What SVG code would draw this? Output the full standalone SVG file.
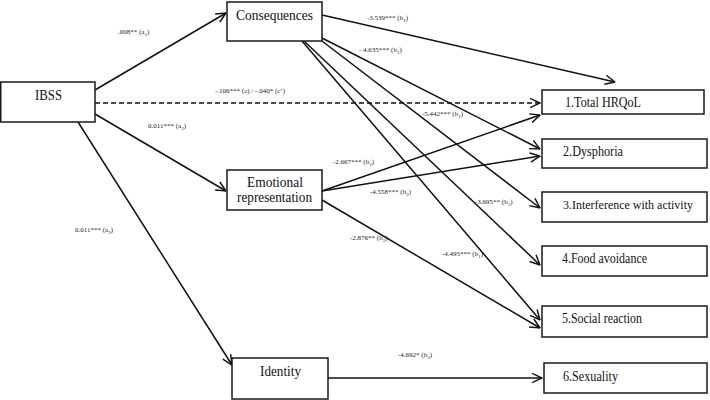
<svg xmlns="http://www.w3.org/2000/svg" width="710" height="400" viewBox="0 0 710 400">
<style>
.box{fill:#fff;stroke:#1a1a1a;stroke-width:1.5}
.t{font-size:14px;fill:#111}
.l{font-size:7px;fill:#222}
.s{font-size:5px}
.c{fill:none;stroke:#111;stroke-width:1.5}
.d{stroke-dasharray:5,3}
</style>
<defs>
<marker id="ah" viewBox="0 0 10 10" refX="9.5" refY="5" markerWidth="11" markerHeight="11" markerUnits="userSpaceOnUse" orient="auto">
<path d="M0.5,0.8 L9.5,5 L0.5,9.2" fill="none" stroke="#111" stroke-width="1.3"/>
</marker>
</defs>
<rect width="710" height="400" fill="#fff"/>
<g id="connectors">
<line class="c" x1="95" y1="90" x2="226" y2="13" marker-end="url(#ah)"/>
<line class="c d" x1="95" y1="103" x2="540" y2="103" marker-end="url(#ah)"/>
<line class="c" x1="95" y1="114" x2="226" y2="191" marker-end="url(#ah)"/>
<line class="c" x1="78" y1="122" x2="232" y2="365" marker-end="url(#ah)"/>
<line class="c" x1="322" y1="15" x2="615" y2="82" marker-end="url(#ah)"/>
<line class="c" x1="322" y1="38" x2="540" y2="149" marker-end="url(#ah)"/>
<line class="c" x1="322" y1="41" x2="540" y2="208" marker-end="url(#ah)"/>
<line class="c" x1="304" y1="41" x2="540" y2="265" marker-end="url(#ah)"/>
<line class="c" x1="302" y1="41" x2="540" y2="320" marker-end="url(#ah)"/>
<line class="c" x1="322" y1="191" x2="540" y2="115" marker-end="url(#ah)"/>
<line class="c" x1="322" y1="191" x2="540" y2="156" marker-end="url(#ah)"/>
<line class="c" x1="322" y1="200" x2="540" y2="328" marker-end="url(#ah)"/>
<line class="c" x1="328" y1="378" x2="542" y2="378" marker-end="url(#ah)"/>
</g>
<g font-family="'Liberation Serif', 'Times New Roman', Times, serif">
<g id="labels">
<text class="l" x="118" y="34">.008** (a<tspan class="s" dy="1.5">1</tspan><tspan dy="-1.5">)</tspan></text>
<text class="l" x="215" y="93">-.106*** (c) / -.040* (c’)</text>
<text class="l" x="148" y="128">0.011*** (a<tspan class="s" dy="1.5">2</tspan><tspan dy="-1.5">)</tspan></text>
<text class="l" x="75" y="232">0.011*** (a<tspan class="s" dy="1.5">3</tspan><tspan dy="-1.5">)</tspan></text>
<text class="l" x="367" y="20">-3.539*** (b<tspan class="s" dy="1.5">1</tspan><tspan dy="-1.5">)</tspan></text>
<text class="l" x="359" y="52">- 4.635*** (b<tspan class="s" dy="1.5">1</tspan><tspan dy="-1.5">)</tspan></text>
<text class="l" x="422" y="116">-5.442*** (b<tspan class="s" dy="1.5">1</tspan><tspan dy="-1.5">)</tspan></text>
<text class="l" x="333" y="164">-2.667*** (b<tspan class="s" dy="1.5">2</tspan><tspan dy="-1.5">)</tspan></text>
<text class="l" x="370" y="194">-4.558*** (b<tspan class="s" dy="1.5">2</tspan><tspan dy="-1.5">)</tspan></text>
<text class="l" x="475" y="204">-3.695** (b<tspan class="s" dy="1.5">1</tspan><tspan dy="-1.5">)</tspan></text>
<text class="l" x="350" y="240">-2.876** (b<tspan class="s" dy="1.5">2</tspan><tspan dy="-1.5">)</tspan></text>
<text class="l" x="442" y="256">-4.495*** (b<tspan class="s" dy="1.5">1</tspan><tspan dy="-1.5">)</tspan></text>
<text class="l" x="398" y="357">-4.692* (b<tspan class="s" dy="1.5">3</tspan><tspan dy="-1.5">)</tspan></text>
</g>
<g id="ibss"><rect class="box" x="0.75" y="82" width="94.25" height="40"/><text class="t" x="35" y="100" textLength="27" lengthAdjust="spacingAndGlyphs">IBSS</text></g>
<g id="consequences"><rect class="box" x="227" y="2" width="95" height="39"/><text class="t" x="236" y="20" textLength="77" lengthAdjust="spacingAndGlyphs">Consequences</text></g>
<g id="emotional"><rect class="box" x="227" y="170" width="95" height="40"/><text class="t" x="247" y="187" textLength="56" lengthAdjust="spacingAndGlyphs">Emotional</text><text class="t" x="237" y="202" textLength="75" lengthAdjust="spacingAndGlyphs">representation</text></g>
<g id="identity"><rect class="box" x="232" y="358" width="96" height="41"/><text class="t" x="260" y="376" textLength="41" lengthAdjust="spacingAndGlyphs">Identity</text></g>
<g id="hrqol"><rect class="box" x="542" y="90" width="162" height="24"/><text class="t" x="565" y="107" textLength="76" lengthAdjust="spacingAndGlyphs">1.Total HRQoL</text></g>
<g id="dysphoria"><rect class="box" x="542" y="139" width="165" height="29"/><text class="t" x="563" y="156" textLength="60" lengthAdjust="spacingAndGlyphs">2.Dysphoria</text></g>
<g id="interference"><rect class="box" x="542" y="192" width="165" height="30"/><text class="t" x="563" y="209" font-size="12.5" style="font-size:12.5px" textLength="130" lengthAdjust="spacingAndGlyphs">3.Interference with activity</text></g>
<g id="food"><rect class="box" x="542" y="246" width="165" height="30"/><text class="t" x="562" y="263" textLength="85" lengthAdjust="spacingAndGlyphs">4.Food avoidance</text></g>
<g id="social"><rect class="box" x="542" y="306" width="165" height="31"/><text class="t" x="562" y="323" textLength="80" lengthAdjust="spacingAndGlyphs">5.Social reaction</text></g>
<g id="sexuality"><rect class="box" x="544" y="363" width="163" height="30"/><text class="t" x="563" y="381" textLength="55" lengthAdjust="spacingAndGlyphs">6.Sexuality</text></g>
</g>
</svg>
